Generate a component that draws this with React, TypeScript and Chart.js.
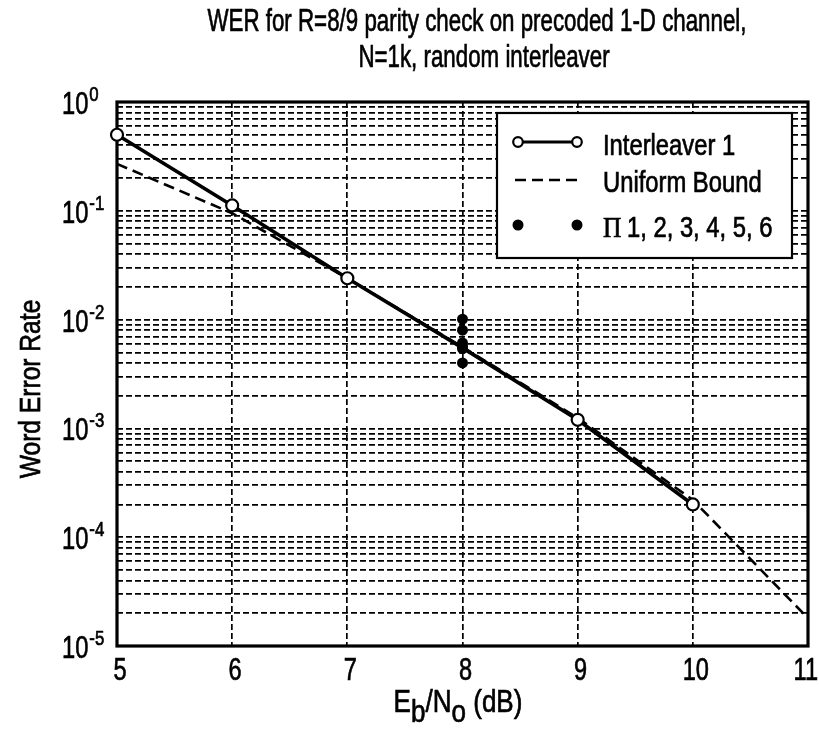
import React, { useEffect, useRef } from "react";
import { Chart, registerables } from "chart.js";

Chart.register(...registerables);

// ---- data ----
const interleaverSnr = [5, 6, 7, 8, 9, 10];
const interleaverWer = [0.5, 0.112, 0.024, 0.0055, 0.0012, 0.0002];
const boundSnr = [5, 6, 7, 8, 9, 10, 11];
const boundWer = [0.27, 0.095, 0.024, 0.0056, 0.00125, 0.00022, 0.000018];
const piSnr = [8, 8, 8, 8, 8, 8];
const piWer = [0.0101, 0.008, 0.0061, 0.0057, 0.0054, 0.004];
const xTickValues = [5, 6, 7, 8, 9, 10, 11];
const yDecades = [0, -1, -2, -3, -4, -5];
const titleLines = [
  "WER for R=8/9 parity check on precoded 1-D channel,",
  "N=1k, random interleaver",
];
const yTitle = "Word Error Rate";
const legendLabels = ["Interleaver 1", "Uniform Bound", "1, 2, 3, 4, 5, 6"];

const SANS = '"Liberation Sans", Arial, sans-serif';
const SERIF = '"Liberation Serif", "Times New Roman", serif';

function drawText(
  ctx: CanvasRenderingContext2D,
  s: string,
  x: number,
  y: number,
  size: number,
  align: CanvasTextAlign = "left",
  scaleX = 0.76,
  font = SANS,
  rot = 0
) {
  ctx.save();
  ctx.translate(x, y);
  if (rot) ctx.rotate(rot);
  ctx.scale(scaleX, 1);
  ctx.font = `${size}px ${font}`;
  ctx.textAlign = align;
  ctx.textBaseline = "alphabetic";
  ctx.fillStyle = "#000";
  ctx.strokeStyle = "#000";
  ctx.lineWidth = 0.7;
  ctx.fillText(s, 0, 0);
  ctx.strokeText(s, 0, 0);
  ctx.restore();
}

function textWidth(ctx: CanvasRenderingContext2D, s: string, size: number, scaleX = 0.76, font = SANS) {
  ctx.save();
  ctx.font = `${size}px ${font}`;
  const w = ctx.measureText(s).width * scaleX;
  ctx.restore();
  return w;
}

const decorPlugin = {
  id: "decor",
  beforeDatasetsDraw(chart: any) {
    const { ctx, chartArea: a } = chart;
    ctx.save();
    ctx.strokeStyle = "#000";
    ctx.lineWidth = 3.2;
    ctx.setLineDash([]);
    ctx.strokeRect(a.left, a.top, a.right - a.left, a.bottom - a.top);
    ctx.restore();
  },
  afterDraw(chart: any) {
    const { ctx, width } = chart;
    const xs = chart.scales.x;
    const ys = chart.scales.y;

    // title
    drawText(ctx, titleLines[0], 477, 31, 31, "center", 0.72);
    drawText(ctx, titleLines[1], 484, 67, 31, "center", 0.72);

    // x tick labels
    xTickValues.forEach((v) => {
      const s = String(v);
      const w = textWidth(ctx, s, 31, 0.76);
      const cx = Math.min(xs.getPixelForValue(v) + 3, width - w / 2 - 1);
      drawText(ctx, s, cx, 680, 31, "center", 0.76);
    });

    // y tick labels 10^n
    yDecades.forEach((d) => {
      const py = ys.getPixelForValue(Math.pow(10, d));
      const base = "10";
      drawText(ctx, base, 62, py + 12, 32, "left", 0.74);
      const w = textWidth(ctx, base, 32, 0.74);
      drawText(ctx, String(d), 62 + w + 1, py - 1, 21, "left", 0.8);
    });

    // y title
    drawText(ctx, yTitle, 40, 389, 30, "center", 0.82, SANS, -Math.PI / 2);

    // x title: E_b/N_0 (dB)
    const parts: [string, number][] = [
      ["E", 0],
      ["b", 10],
      ["/N", 0],
      ["o", 10],
      [" (dB)", 0],
    ];
    const sz = 31;
    const sc = 0.84;
    let total = 0;
    parts.forEach(([s]) => (total += textWidth(ctx, s, sz, sc)));
    let cx = 458 - total / 2;
    parts.forEach(([s, dy]) => {
      drawText(ctx, s, cx, 712 + dy, sz, "left", sc);
      cx += textWidth(ctx, s, sz, sc);
    });

    // legend
    const lx = 497, ly = 113, lw = 295, lh = 145;
    ctx.save();
    ctx.fillStyle = "#fff";
    ctx.fillRect(lx, ly, lw, lh);
    ctx.strokeStyle = "#000";
    ctx.lineWidth = 2.2;
    ctx.setLineDash([]);
    ctx.strokeRect(lx, ly, lw, lh);

    const s1 = 518, s2 = 577, tx = 603;
    // item 1
    ctx.lineWidth = 2.8;
    ctx.beginPath();
    ctx.moveTo(s1, 142);
    ctx.lineTo(s2, 142);
    ctx.stroke();
    [s1, s2].forEach((px) => {
      ctx.beginPath();
      ctx.arc(px, 142, 4.8, 0, Math.PI * 2);
      ctx.fillStyle = "#fff";
      ctx.fill();
      ctx.lineWidth = 2.2;
      ctx.stroke();
    });
    // item 2
    ctx.lineWidth = 2.6;
    ctx.setLineDash([11, 6]);
    ctx.beginPath();
    ctx.moveTo(s1 - 3, 180);
    ctx.lineTo(s2 + 3, 180);
    ctx.stroke();
    ctx.setLineDash([]);
    // item 3
    [s1, s2].forEach((px) => {
      ctx.beginPath();
      ctx.arc(px, 225, 5.5, 0, Math.PI * 2);
      ctx.fillStyle = "#000";
      ctx.fill();
    });
    ctx.restore();

    drawText(ctx, legendLabels[0], tx, 155, 29, "left", 0.82);
    drawText(ctx, legendLabels[1], tx, 192, 29, "left", 0.82);
    drawText(ctx, "\u03A0", tx, 237, 30, "left", 0.85, SERIF);
    drawText(ctx, legendLabels[2], 627, 237, 29, "left", 0.82);
  },
};

export default function App() {
  const ref = useRef<HTMLCanvasElement | null>(null);

  useEffect(() => {
    document.body.style.margin = "0";
    const canvas = ref.current;
    if (!canvas) return;

    const yGrid: number[] = [];
    for (let d = -5; d < 0; d++) {
      for (let m = 1; m <= 9; m++) yGrid.push(m * Math.pow(10, d));
    }
    yGrid.push(1);

    const chart = new Chart(canvas, {
      type: "scatter",
      data: {
        datasets: [
          {
            label: "\u03A0 " + legendLabels[2],
            data: piSnr.map((x, i) => ({ x, y: piWer[i] })),
            showLine: false,
            pointRadius: 5.5,
            pointBackgroundColor: "#000",
            pointBorderColor: "#000",
            pointBorderWidth: 0,
            clip: false as any,
          },
          {
            label: legendLabels[0],
            data: interleaverSnr.map((x, i) => ({ x, y: interleaverWer[i] })),
            showLine: true,
            borderColor: "#000",
            borderWidth: 3.6,
            pointRadius: [6, 6, 6, 0, 6, 6],
            pointBackgroundColor: "#fff",
            pointBorderColor: "#000",
            pointBorderWidth: 2.2,
            clip: false as any,
          },
          {
            label: legendLabels[1],
            data: boundSnr.map((x, i) => ({ x, y: boundWer[i] })),
            showLine: true,
            borderColor: "#000",
            borderWidth: 2.6,
            borderDash: [11, 6],
            pointRadius: 0,
            clip: false as any,
          },
        ],
      },
      options: {
        animation: false,
        responsive: false,
        devicePixelRatio: 1,
        layout: { padding: { left: 117, right: 11, top: 102, bottom: 88 } },
        plugins: {
          legend: { display: false },
          title: { display: false },
          tooltip: { enabled: false },
        },
        scales: {
          x: {
            type: "linear",
            min: 5,
            max: 11,
            afterBuildTicks: (axis: any) => {
              axis.ticks = xTickValues.map((v) => ({ value: v }));
            },
            ticks: { display: false },
            grid: { color: "#000", lineWidth: 1.7, drawTicks: false },
            border: { display: false, dash: [6, 3] },
          },
          y: {
            type: "logarithmic",
            min: 1e-5,
            max: 1,
            afterBuildTicks: (axis: any) => {
              axis.ticks = yGrid.map((v) => ({ value: v }));
            },
            ticks: { display: false },
            grid: { color: "#000", lineWidth: 1.7, drawTicks: false },
            border: { display: false, dash: [6, 3] },
          },
        },
      },
      plugins: [decorPlugin],
    });

    return () => chart.destroy();
  }, []);

  return (
    <div style={{ position: "absolute", left: 0, top: 0, width: 819, height: 734, background: "#fff" }}>
      <canvas ref={ref} width={819} height={734} style={{ width: 819, height: 734 }} />
    </div>
  );
}
